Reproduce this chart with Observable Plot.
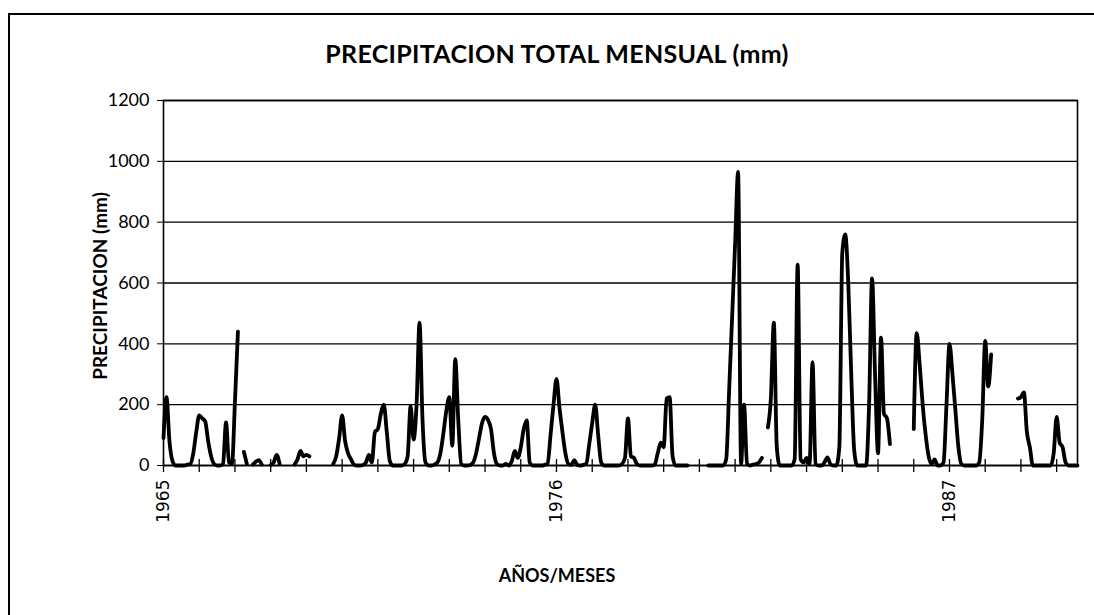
<!DOCTYPE html>
<html><head><meta charset="utf-8">
<script src="https://cdn.jsdelivr.net/npm/d3@7"></script>
<script src="https://cdn.jsdelivr.net/npm/@observablehq/plot@0.6"></script>
<style>
body{margin:0;background:#fff;}
#wrap{position:relative;width:1094px;height:615px;overflow:hidden;font-family:Lato,sans-serif;color:#000;}
#border{position:absolute;left:8px;top:13px;width:1200px;height:700px;border-top:2px solid #000;border-left:2px solid #000;}
#title{position:absolute;left:557px;top:38px;transform:translateX(-50%);font-weight:bold;font-size:25px;letter-spacing:0.3px;white-space:nowrap;}
#ylab{position:absolute;left:99px;top:286px;transform:translate(-50%,-50%) rotate(-90deg);font-weight:bold;font-size:19px;white-space:nowrap;}
#xlab{position:absolute;left:557px;top:564px;transform:translateX(-50%);font-weight:bold;font-size:18px;white-space:nowrap;}
#chart{position:absolute;left:0;top:0;}
</style></head>
<body>
<div id="wrap">
  <div id="border"></div>
  <div id="chart"></div>
  <div id="title">PRECIPITACION TOTAL MENSUAL (mm)</div>
  <div id="ylab">PRECIPITACION (mm)</div>
  <div id="xlab">AÑOS/MESES</div>
</div>
<script>
// Monthly precipitation (mm), Jan..Dec; null = missing month
const startYear = 1965;
const p1965 = [90, 225, 80, 15, 0, 0, 0, 0, 3, 5, 40, 110];
const p1966 = [165, 155, 145, 80, 30, 5, 0, 0, 5, 142, 10, 5];
const p1967 = [210, 440, null, 45, 5, null, 3, 12, 18, 3, null, null];
const p1968 = [2, 10, 35, 5, null, null, null, null, 3, 20, 48, 30];
const p1969 = [35, 30, null, null, null, null, null, null, null, 5, 30, 90];
const p1970 = [165, 80, 40, 20, 3, 0, 0, 2, 10, 35, 10, 110];
const p1971 = [120, 170, 200, 110, 15, 0, 0, 0, 0, 5, 30, 195];
const p1972 = [85, 200, 470, 150, 10, 0, 0, 3, 10, 40, 105, 180];
const p1973 = [225, 65, 350, 150, 5, 0, 0, 2, 10, 40, 90, 140];
const p1974 = [160, 150, 120, 40, 5, 0, 0, 5, 0, 15, 48, 25];
const p1975 = [60, 120, 148, 10, 0, 0, 0, 0, 2, 5, 100, 200];
const p1976 = [285, 190, 110, 40, 5, 2, 18, 2, 0, 2, 5, 70];
const p1977 = [140, 200, 100, 10, 0, 0, 0, 0, 0, 0, 5, 25];
const p1978 = [155, 30, 25, 5, 0, 0, 0, 0, 0, 3, 40, 75];
const p1979 = [60, 220, 225, 30, 0, 0, 0, 0, 0, null, null, null];
const p1980 = [null, null, null, 0, 0, 0, 0, 0, 0, 20, 250, 490];
const p1981 = [730, 965, 5, 200, 5, 0, 3, 5, 10, 25, null, 125];
const p1982 = [220, 470, 60, 0, 0, 0, 0, 0, 20, 660, 20, 10];
const p1983 = [25, 5, 340, 5, 0, 0, 10, 27, 5, 0, 0, 60];
const p1984 = [700, 760, 600, 300, 50, 0, 0, 0, 0, 200, 615, 300];
const p1985 = [40, 420, 170, 155, 70, null, null, null, null, null, null, null];
const p1986 = [120, 435, 330, 200, 100, 30, 5, 20, 0, 0, 10, 200];
const p1987 = [400, 300, 180, 60, 5, 0, 0, 0, 0, 0, 10, 150];
const p1988 = [410, 260, 365, null, null, null, null, null, null, null, null, 220];
const p1989 = [225, 240, 110, 60, 0, 0, 0, 0, 0, 0, 0, 40];
const p1990 = [160, 75, 60, 10, 0, 0, 0, 0];

const yearRows = [p1965,p1966,p1967,p1968,p1969,p1970,p1971,p1972,p1973,p1974,p1975,p1976,p1977,
  p1978,p1979,p1980,p1981,p1982,p1983,p1984,p1985,p1986,p1987,p1988,p1989,p1990];
const labelYears = [1965, 1976, 1987];
const yTicks = [0, 200, 400, 600, 800, 1000, 1200];

const data = [];
yearRows.forEach((row, k) => row.forEach((v, m) => data.push({i: k * 12 + m, v})));
const lastIndex = data.length - 1;
const yearTickPos = yearRows.map((_, k) => k * 12);
const labelPos = labelYears.map(y => (y - startYear) * 12);

const chart = Plot.plot({
  width: 1094, height: 615,
  marginLeft: 163, marginRight: 17, marginTop: 100, marginBottom: 150,
  x: {domain: [0, lastIndex]},
  y: {domain: [0, 1200]},
  style: {fontFamily: "Lato, sans-serif", fontSize: "18px", color: "#000", background: "transparent"},
  marks: [
    Plot.gridY(yTicks, {stroke: "#000", strokeOpacity: 1, strokeWidth: 1.3}),
    Plot.axisY(yTicks, {tickSize: 6, tickPadding: 8, label: null, fontSize: 18, stroke: "#000",
      tickFormat: d => String(d)}),
    Plot.axisX(yearTickPos, {tickSize: 13, dy: -6, tickFormat: () => "", label: null, strokeWidth: 1.3}),
    Plot.axisX(labelPos, {tickSize: 0, tickPadding: 14, tickRotate: -90,
      tickFormat: i => String(startYear + i / 12), label: null, fontFamily: "DejaVu Sans", fontSize: 17}),
    Plot.frame({stroke: "#000", strokeWidth: 1.6}),
    Plot.line(data, {x: "i", y: "v", stroke: "#000", strokeWidth: 3.8, curve: "monotone-x",
      strokeLinejoin: "round", strokeLinecap: "round"})
  ]
});
document.getElementById("chart").appendChild(chart);
</script>
</body></html>
